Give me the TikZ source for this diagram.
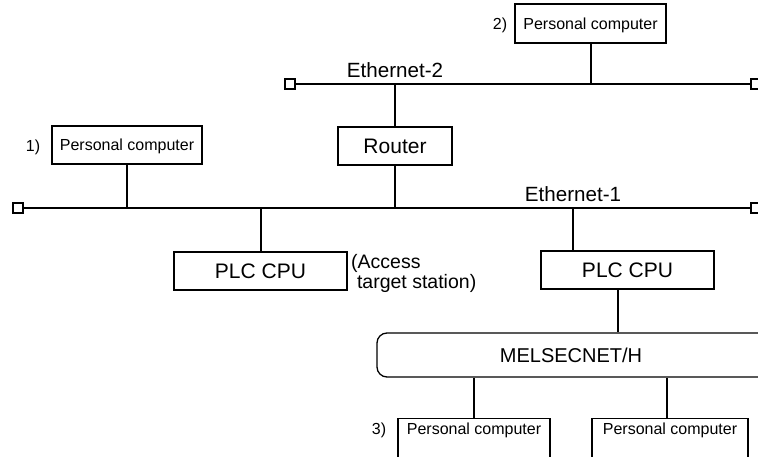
\documentclass[tikz,border=0pt]{standalone}
\usepackage{fontspec}
\setmainfont{Liberation Sans}
\usetikzlibrary{calc}
\tikzset{
  box/.style={draw, line width=1.3pt, inner sep=0pt, text depth=0pt},
  pcbox/.style={box, text height=11.5pt, font=\fontsize{16}{18}\selectfont},
  bigbox/.style={box, text height=15pt, font=\fontsize{21}{24}\selectfont},
  term/.style={draw, line width=1.3pt, fill=white, minimum size=10pt, inner sep=0pt},
  bus/.style={line width=2pt},
  wire/.style={line width=2pt},
  lbl/.style={inner sep=0pt, anchor=base},
}
\begin{document}
\begin{tikzpicture}[x=1pt, y=-1pt]
\useasboundingbox (0,0) rectangle (758,457);
% Ethernet-2
\node[term] (e2l) at (290,84) {};
\node[term] (e2r) at (756,84) {};
\draw[bus] (e2l.east) -- (e2r.west);
\node[lbl, font=\fontsize{20.6}{24}\selectfont] (eth2) at (395,78) {Ethernet-2};
% Ethernet-1
\node[term] (e1l) at (18,208) {};
\node[term] (e1r) at (756,208) {};
\draw[bus] (e1l.east) -- (e1r.west);
\node[lbl, font=\fontsize{20.6}{24}\selectfont] (eth1) at (573,202) {Ethernet-1};
% PC 2
\node[pcbox, minimum width=151pt, minimum height=39pt] (pc2) at (590.5,23.5) {Personal computer};
\node[lbl, font=\fontsize{16}{18}\selectfont] (n2) at (500,30) {2)};
\draw[wire] (pc2.south) -- (pc2.south |- e2l);
% Router
\node[bigbox, minimum width=114pt, minimum height=38pt] (router) at (395,146) {Router};
\draw[wire] (router.north) -- (router.north |- e2l);
\draw[wire] (router.south) -- (router.south |- e1l);
% PC 1
\node[pcbox, minimum width=150pt, minimum height=38pt] (pc1) at (127,145) {Personal computer};
\node[lbl, font=\fontsize{16}{18}\selectfont] (n1) at (33,152) {1)};
\draw[wire] (pc1.south) -- (pc1.south |- e1l);
% PLC 1
\node[bigbox, minimum width=173pt, minimum height=38pt] (plc1) at (260.5,271) {PLC CPU};
\draw[wire] (plc1.north) -- (plc1.north |- e1l);
\node[inner sep=0pt, anchor=north west, align=left, font=\fontsize{19.5}{20}\selectfont] (acc) at (351,254)
  {(Access\\\hspace*{0.3em}target station)};
% PLC 2
\node[bigbox, minimum width=173pt, minimum height=38pt] (plc2) at (627.5,270) {PLC CPU};
\coordinate (p2top) at ($(plc2.north west)+(33,0)$);
\coordinate (p2bot) at ($(plc2.south west)+(78,0)$);
\draw[wire] (p2top) -- (p2top |- e1l);
% MELSECNET/H
\node[draw, line width=1.3pt, rounded corners=10pt, minimum width=436pt, minimum height=44pt, inner sep=0pt] (mel) at (595,355) {};
\node[inner sep=0pt, text height=14.4pt, text depth=0pt, font=\fontsize{20}{22}\selectfont] (meltext) at (571,355) {MELSECNET/H};
\draw[wire] (p2bot) -- (p2bot |- mel.north);
% PC 3 and PC 4 (cut off at the bottom)
\node[draw, line width=1.3pt, minimum width=152pt, minimum height=60pt, inner sep=0pt, anchor=north] (pc3) at (474,418) {};
\node[draw, line width=1.3pt, minimum width=156pt, minimum height=60pt, inner sep=0pt, anchor=north] (pc4) at (670,418) {};
\node[lbl, font=\fontsize{16}{18}\selectfont] (pc3t) at (474,434) {Personal computer};
\node[lbl, font=\fontsize{16}{18}\selectfont] (pc4t) at (670,434) {Personal computer};
\node[lbl, font=\fontsize{16}{18}\selectfont] (n3) at (379,434) {3)};
\draw[wire] (pc3.north) -- (pc3.north |- mel.south);
\draw[wire] ([xshift=-3pt]pc4.north) -- ([xshift=-3pt]pc4.north |- mel.south);
\end{tikzpicture}
\end{document}
